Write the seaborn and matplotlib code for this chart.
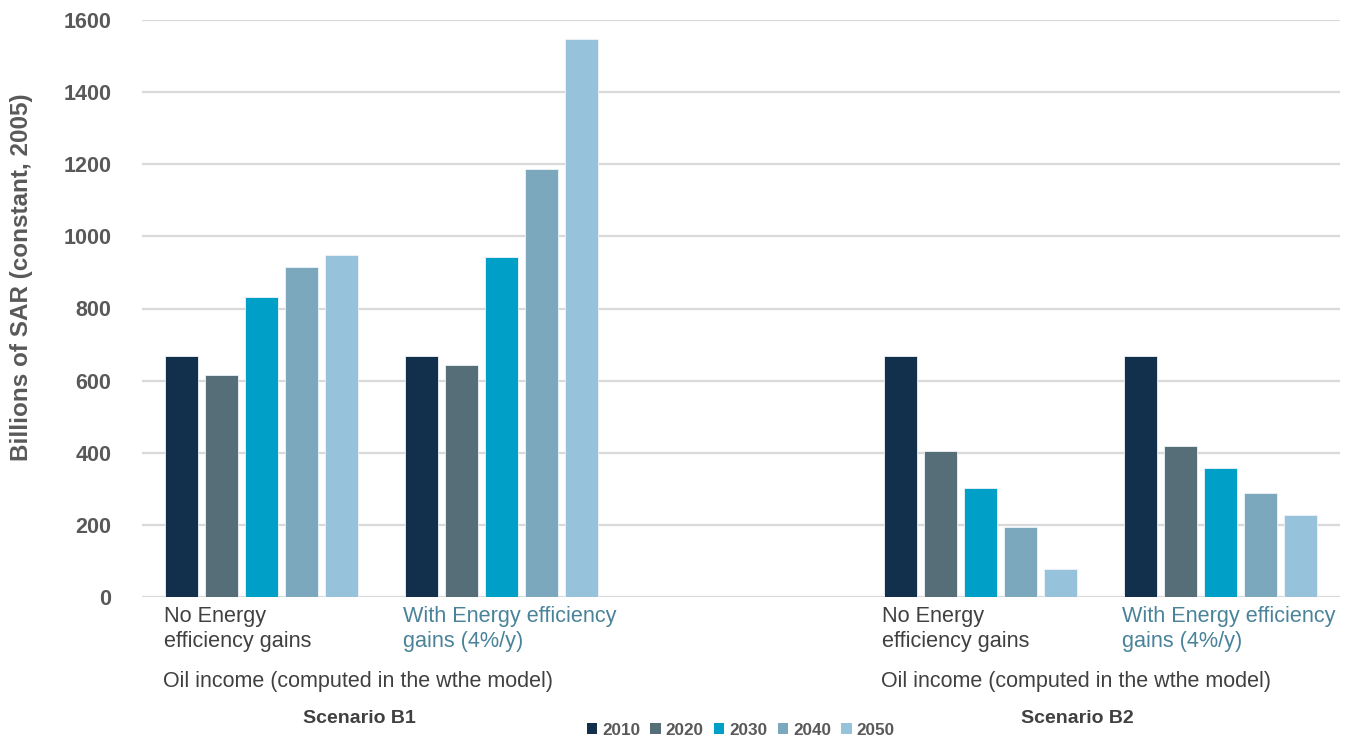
import matplotlib
matplotlib.use("Agg")
import matplotlib.pyplot as plt
from matplotlib.patches import Patch
import seaborn as sns
import pandas as pd

# Oil income by scenario (billions of SAR, constant 2005)
categories = ["B1 No", "B1 With", "", "B2 No", "B2 With"]
years = ["2010", "2020", "2030", "2040", "2050"]
b1_no_gains = [668, 615, 833, 915, 948]
b1_with_gains = [668, 642, 942, 1187, 1547]
b2_no_gains = [668, 405, 302, 193, 78]
b2_with_gains = [668, 418, 358, 288, 227]

tick_labels = ["No Energy\nefficiency gains", "With Energy efficiency\ngains (4%/y)", "",
               "No Energy\nefficiency gains", "With Energy efficiency\ngains (4%/y)"]
group_label = "Oil income (computed in the wthe model)"
scenario_labels = ["Scenario B1", "Scenario B2"]
y_ticks = [0, 200, 400, 600, 800, 1000, 1200, 1400, 1600]

colors = {"2010": "#12304B", "2020": "#556E78", "2030": "#009FC8",
          "2040": "#7BA8BD", "2050": "#97C2DB"}

rows = []
for cat, vals in zip(["B1 No", "B1 With", "B2 No", "B2 With"],
                     [b1_no_gains, b1_with_gains, b2_no_gains, b2_with_gains]):
    for yr, v in zip(years, vals):
        rows.append({"category": cat, "year": yr, "value": v})
df = pd.DataFrame(rows)

sns.set_style("white")
plt.rcParams["font.family"] = ["Liberation Sans", "DejaVu Sans"]

fig = plt.figure(figsize=(13.47, 7.4), dpi=100)
ax = fig.add_axes([142 / 1347, 1 - 597 / 740, 1198 / 1347, 577 / 740])

sns.barplot(data=df, x="category", y="value", hue="year", order=categories,
            hue_order=years, palette=colors, saturation=1, width=0.833, gap=0.175,
            edgecolor="#eef4f8", linewidth=0.6, ax=ax, legend=False, errorbar=None)

ax.set_xlim(-0.5, 4.5)
ax.set_ylim(0, 1600)
ax.set_yticks(y_ticks)
ax.set_yticklabels([str(t) for t in y_ticks], fontsize=15.5, fontweight="bold", color="#595959")
ax.tick_params(axis="y", length=0, pad=22)
ax.yaxis.grid(True, color="#d9d9d9", linewidth=1.6)
ax.set_axisbelow(True)
for s in ax.spines.values():
    s.set_visible(False)
ax.set_xticks([])
ax.set_xlabel("")
ax.set_ylabel("Billions of SAR (constant, 2005)", fontsize=17.5, fontweight="bold",
              color="#595959")
ax.yaxis.set_label_coords(-0.091, 0.555)

trans = ax.get_xaxis_transform()
for i, lab in enumerate(tick_labels):
    if not lab:
        continue
    col = "#404040" if lab.startswith("No") else "#4A8399"
    ax.text(i - 0.41, -0.015, lab, transform=trans, ha="left", va="top",
            fontsize=15.6, color=col, linespacing=1.3)

for x0, scen in zip([-0.4125, 2.584], scenario_labels):
    ax.text(x0, -0.128, group_label, transform=trans, ha="left", va="top",
            fontsize=15.5, color="#404040")
    ax.text(x0 + 0.82, -0.195, scen, transform=trans, ha="center", va="top",
            fontsize=14, fontweight="bold", color="#404040")

handles = [Patch(facecolor=colors[y], edgecolor="none") for y in years]
leg = fig.legend(handles, years, loc="center", bbox_to_anchor=(0.550, 0.013), ncol=5,
                 frameon=False, handlelength=0.6, handleheight=0.6, handletextpad=0.3,
                 columnspacing=0.6, prop={"weight": "bold", "size": 12.3})
for t in leg.get_texts():
    t.set_color("#595959")

fig.savefig("out.png", dpi=100)
